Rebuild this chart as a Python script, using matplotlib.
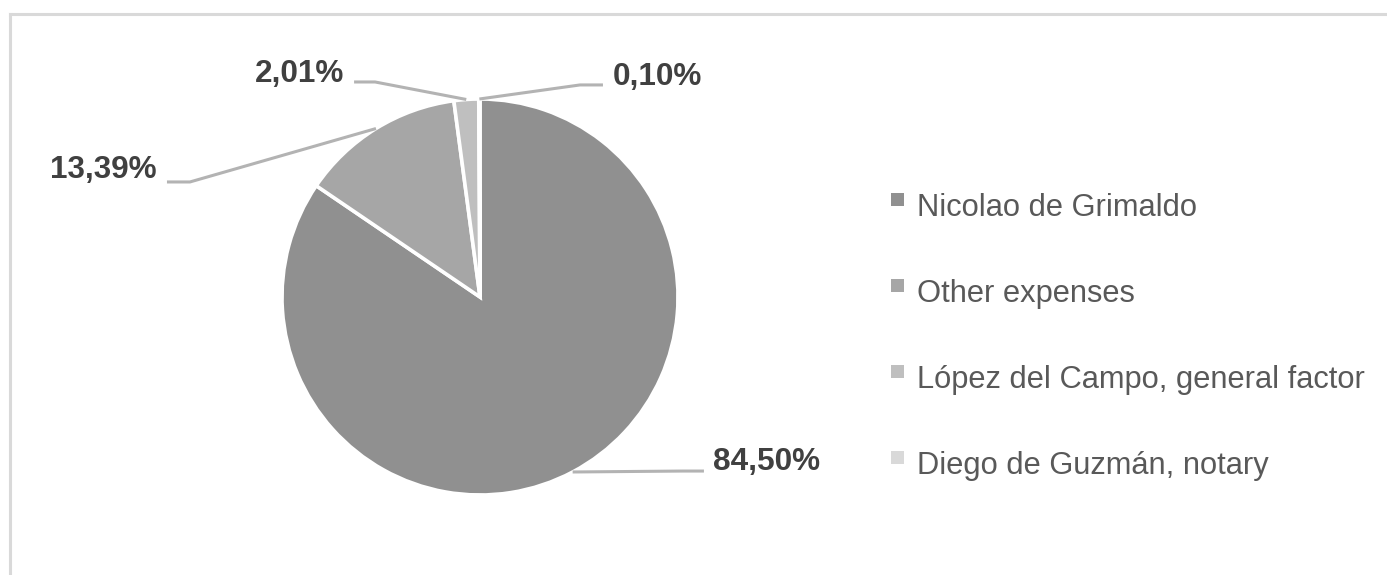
import numpy as np
import matplotlib
matplotlib.use("Agg")
import matplotlib.pyplot as plt
from matplotlib.lines import Line2D
from matplotlib.patches import Rectangle

# ---- data ----
categories = ["Nicolao de Grimaldo", "Other expenses",
              "López del Campo, general factor", "Diego de Guzmán, notary"]
values = [84.50, 13.39, 2.01, 0.10]
labels = ["84,50%", "13,39%", "2,01%", "0,10%"]
colors = ["#909090", "#a6a6a6", "#bfbfbf", "#d9d9d9"]

# ---- layout (pixels) ----
W, H, DPI = 1387, 575, 100
cx, cy, R = 480, 297, 198
# leader elbow, leader end, text anchor (data units relative to pie radius)
elbows = [(1.025, -0.879), (-1.465, 0.581), (-0.530, 1.086), (0.505, 1.071)]
ends = [(1.131, -0.879), (-1.581, 0.581), (-0.636, 1.086), (0.621, 1.071)]
texts = [(1.177, -0.874, "left"), (-1.631, 0.601, "right"),
         (-0.687, 1.086, "right"), (0.672, 1.071, "left")]

plt.rcParams["font.family"] = ["Liberation Sans", "DejaVu Sans"]

fig = plt.figure(figsize=(W / DPI, H / DPI), dpi=DPI)
fig.patch.set_facecolor("white")
ax = fig.add_axes([(cx - R) / W, (H - cy - R) / H, 2 * R / W, 2 * R / H])
wedges, _ = ax.pie(values, colors=colors, startangle=90, counterclock=False,
                   radius=1.0, wedgeprops=dict(edgecolor="white", linewidth=2.6))
ax.set_xlim(-1, 1)
ax.set_ylim(-1, 1)
ax.set_aspect("equal")
ax.axis("off")

lead_col = "#b3b3b3"
for w, lab, el, en, (tx, ty, ha) in zip(wedges, labels, elbows, ends, texts):
    mid = np.deg2rad((w.theta1 + w.theta2) / 2)
    sx, sy = np.cos(mid), np.sin(mid)
    ax.plot([sx, el[0], en[0]], [sy, el[1], en[1]], color=lead_col, lw=2.2,
            clip_on=False, solid_capstyle="butt", solid_joinstyle="miter")
    ax.text(tx, ty, lab, ha=ha, va="baseline", fontsize=22.7, fontweight="bold",
            color="#404040", clip_on=False)

# legend (drawn manually, Excel style)
sq = 13
x_sq, x_txt = 891, 917
top0, step = 193, 86
for i, (name, col) in enumerate(zip(categories, colors)):
    top = top0 + i * step
    fig.patches.append(Rectangle((x_sq / W, (H - top - sq) / H), sq / W, sq / H,
                                 transform=fig.transFigure, facecolor=col,
                                 edgecolor="none"))
    fig.text(x_txt / W, (H - (top + 23)) / H, name, ha="left", va="baseline",
             fontsize=22.2, color="#595959")

# outer frame (only left and top visible)
fc = "#d9d9d9"
fig.lines.append(Line2D([10 / W, 10 / W], [0, (H - 13.5) / H], transform=fig.transFigure,
                        color=fc, lw=2.2, solid_capstyle="projecting"))
fig.lines.append(Line2D([10 / W, 1.0], [(H - 13.5) / H, (H - 13.5) / H],
                        transform=fig.transFigure, color=fc, lw=2.2,
                        solid_capstyle="projecting"))

fig.savefig("out.png", dpi=DPI)
